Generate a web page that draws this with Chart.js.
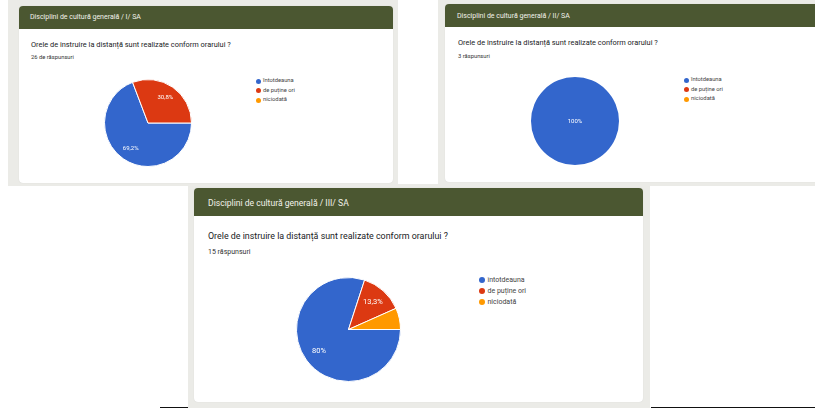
<!DOCTYPE html>
<html lang="ro">
<head>
<meta charset="utf-8">
<script src="https://cdn.jsdelivr.net/npm/chart.js@4.4.0/dist/chart.umd.min.js"></script>
<style>
  html, body { margin: 0; padding: 0; background: #fff; }
  body { width: 815px; height: 408px; position: relative; overflow: hidden; font-family: Roboto, Arial, sans-serif; }
  .shot { position: absolute; background: #ebebe7; }
  .card { position: absolute; background: #fff; border-radius: 4px; overflow: hidden; box-shadow: 0 0 1px rgba(0,0,0,0.15); }
  .head { position: absolute; left: 0; top: 0; right: 0; background: #4b5731; }
  .txt { position: absolute; white-space: nowrap; line-height: 1; }
  .dot { position: absolute; border-radius: 50%; }
  .rule { position: absolute; height: 1px; background: #111; }
  canvas { position: absolute; }
</style>
</head>
<body>
<script>
// raspunsuri pe categorii, in ordinea legendei
const categorii = ['întotdeauna', 'de puține ori', 'niciodată'];
const culori = ['#3366cc', '#dc3912', '#ff9900'];

const clasaI = [18, 8, 0];
const clasaII = [3, 0, 0];
const clasaIII = [12, 2, 1];

const titluri = [
  'Disciplini de cultură generală / I/ SA',
  'Disciplini de cultură generală / II/ SA',
  'Disciplini de cultură generală / III/ SA'
];
const intrebare = 'Orele de instruire la distanță sunt realizate conform orarului ?';
const numarRaspunsuri = ['26 de răspunsuri', '3 răspunsuri', '15 răspunsuri'];

// fundalul gri al fiecarei capturi
function box(cls, x, y, w, h, parent) {
  const d = document.createElement('div');
  d.className = cls;
  Object.assign(d.style, { left: x + 'px', top: y + 'px', width: w + 'px', height: h + 'px' });
  (parent || document.body).appendChild(d);
  return d;
}

function text(str, x, cy, size, color, parent, weight) {
  const d = document.createElement('div');
  d.className = 'txt';
  d.textContent = str;
  Object.assign(d.style, {
    left: x + 'px', top: (cy - size / 2) + 'px', fontSize: size + 'px',
    color: color, fontWeight: weight || 400
  });
  (parent || document.body).appendChild(d);
}

// procente in interiorul feliilor, cu virgula zecimala
const procente = {
  id: 'procente',
  afterDatasetsDraw(chart, args, opts) {
    const ctx = chart.ctx;
    const data = chart.data.datasets[0].data;
    const total = data.reduce((a, b) => a + b, 0);
    ctx.save();
    ctx.fillStyle = '#fff';
    ctx.font = opts.size + 'px Roboto, Arial, sans-serif';
    ctx.textAlign = 'center';
    ctx.textBaseline = 'middle';
    chart.getDatasetMeta(0).data.forEach((arc, i) => {
      const p = data[i] / total * 100;
      if (p < 10) return;
      const txt = (Math.round(p * 10) / 10).toString().replace('.', ',') + '%';
      let x = arc.x, y = arc.y;
      if (p < 100) {
        const mid = (arc.startAngle + arc.endAngle) / 2;
        x += Math.cos(mid) * arc.outerRadius * 0.7;
        y += Math.sin(mid) * arc.outerRadius * 0.7;
      }
      ctx.fillText(txt, x, y);
    });
    ctx.restore();
  }
};

function pie(valori, cx, cy, r, fontSize) {
  const size = Math.ceil(r * 2 + 4);
  const c = document.createElement('canvas');
  c.width = size; c.height = size;
  c.style.left = (cx - size / 2) + 'px';
  c.style.top = (cy - size / 2) + 'px';
  c.style.width = size + 'px';
  c.style.height = size + 'px';
  document.body.appendChild(c);
  new Chart(c.getContext('2d'), {
    type: 'pie',
    data: {
      labels: categorii,
      datasets: [{
        data: valori,
        backgroundColor: culori,
        borderColor: '#fff',
        borderWidth: (ctx) => (ctx.raw > 0 && ctx.raw < valori.reduce((a, b) => a + b, 0) ? 1 : 0)
      }]
    },
    options: {
      responsive: false,
      animation: false,
      rotation: 90,
      layout: { padding: 2 },
      plugins: {
        legend: { display: false },
        tooltip: { enabled: false },
        procente: { size: fontSize }
      }
    },
    plugins: [procente]
  });
}

function legenda(x, ys, dotSize, fontSize) {
  categorii.forEach((cat, i) => {
    const d = box('dot', x - dotSize / 2, ys[i] - dotSize / 2, dotSize, dotSize);
    d.style.background = culori[i];
    text(cat, x + dotSize / 2 + 2.5, ys[i], fontSize, '#444');
  });
}

// captura I
box('shot', 8, 0, 390, 186);
const c1 = box('card', 19, 6, 374, 177);
box('head', 0, 0, 374, 23, c1).style.width = '';
text(titluri[0], 30, 17, 7, '#f2f2ea');
text(intrebare, 31, 45, 7.4, '#202124');
text(numarRaspunsuri[0], 31, 58, 5.8, '#333');
pie(clasaI, 148, 123, 44, 6);
legenda(258, [81, 90.5, 100], 5, 5.8);

// captura II
box('shot', 438, 0, 377, 186);
const c2 = box('card', 445, 4, 380, 178);
box('head', 0, 0, 380, 23, c2).style.width = '';
text(titluri[1], 457, 16, 7, '#f2f2ea');
text(intrebare, 458, 43, 7.4, '#202124');
text(numarRaspunsuri[1], 458, 57, 5.8, '#333');
pie(clasaII, 575, 121, 44, 6);
legenda(686, [80, 89.5, 99], 5, 5.8);

// captura III
box('shot', 188, 184, 462, 224);
const c3 = box('card', 194, 188, 449, 214);
box('head', 0, 0, 449, 28, c3).style.width = '';
text(titluri[2], 208, 203, 8.6, '#f2f2ea');
text(intrebare, 208, 236, 8.9, '#202124');
text(numarRaspunsuri[2], 208, 252, 7, '#333');
pie(clasaIII, 348.5, 329.5, 52.5, 7.5);
legenda(482, [280, 291, 302], 6, 7);

// linii negre de la marginea de jos
box('rule', 160, 407, 28, 1);
box('rule', 651, 407, 164, 1);
</script>
</body>
</html>
